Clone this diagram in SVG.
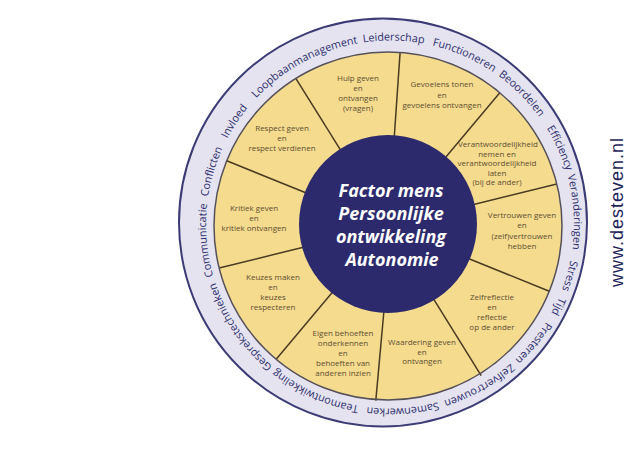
<svg xmlns="http://www.w3.org/2000/svg" xmlns:xlink="http://www.w3.org/1999/xlink" width="640" height="449" viewBox="0 0 640 449">
<style>
.ring{font-family:"Open Sans","Liberation Sans",sans-serif;font-size:10.8px;fill:#2e2e6e;text-anchor:middle}
.seg{font-family:"Open Sans","Liberation Sans",sans-serif;font-size:8px;fill:#5f4e30;text-anchor:middle}
.core{font-family:"Open Sans","Liberation Sans",sans-serif;font-size:18px;font-weight:bold;font-style:italic;fill:#ffffff;text-anchor:middle}
.div{stroke:#4a3a22;stroke-width:1.5}
</style>
<defs>
<path id="tp" d="M574,224.5 A184,184 0 1 1 206,224.5 A184,184 0 1 1 574,224.5 A184,184 0 1 1 206,224.5 A184,184 0 1 1 574,224.5"/>
</defs>
<rect width="640" height="449" fill="#ffffff"/>
<g id="outer-ring">
<circle cx="383" cy="222.5" r="204" fill="#e4e3ef" stroke="#3b3b75" stroke-width="2"/>
</g>
<g id="yellow-disc">
<circle cx="388" cy="226" r="174" fill="#f4db8e"/>
</g>
<g id="connectors">
<line class="div" x1="462.2" y1="256" x2="549.3" y2="291.2"/>
<line class="div" x1="430.4" y1="293.8" x2="481.2" y2="375.6"/>
<line class="div" x1="384.4" y1="305.8" x2="375.8" y2="400.6"/>
<line class="div" x1="336.6" y1="287.3" x2="276.2" y2="359.3"/>
<line class="div" x1="310.4" y1="245.4" x2="219.2" y2="268.1"/>
<line class="div" x1="313.8" y1="196" x2="226.7" y2="160.8"/>
<line class="div" x1="345.6" y1="158.2" x2="295.8" y2="78.4"/>
<line class="div" x1="393.6" y1="146.2" x2="400.1" y2="52.4"/>
<line class="div" x1="439.4" y1="164.7" x2="499.8" y2="92.7"/>
<line class="div" x1="465.6" y1="206.6" x2="556.8" y2="183.9"/>
</g>
<g id="yellow-border">
<circle cx="388" cy="226" r="174" fill="none" stroke="#55505a" stroke-width="1.5"/>
</g>
<g id="center">
<circle cx="388" cy="224" r="89" fill="#2c2a6c"/>
<text class="core" x="391" y="197">Factor mens</text>
<text class="core" x="391" y="220">Persoonlijke</text>
<text class="core" x="391" y="243">ontwikkeling</text>
<text class="core" x="392" y="266">Autonomie</text>
</g>
<g id="seg-hulp"><text class="seg"><tspan x="358" y="81">Hulp geven</tspan><tspan x="358" y="91">en</tspan><tspan x="358" y="101">ontvangen</tspan><tspan x="358" y="111">(vragen)</tspan></text></g>
<g id="seg-gevoelens"><text class="seg"><tspan x="442" y="87">Gevoelens tonen</tspan><tspan x="442" y="97.5">en</tspan><tspan x="442" y="108">gevoelens ontvangen</tspan></text></g>
<g id="seg-verantwoordelijkheid"><text class="seg"><tspan x="498" y="147">Verantwoordelijkheid</tspan><tspan x="497" y="156.5">nemen en</tspan><tspan x="497" y="166">verantwoordelijkheid</tspan><tspan x="497" y="175.5">laten</tspan><tspan x="497" y="185">(bij de ander)</tspan></text></g>
<g id="seg-vertrouwen"><text class="seg"><tspan x="522" y="218">Vertrouwen geven</tspan><tspan x="522" y="228">en</tspan><tspan x="522" y="238.5">(zelf)vertrouwen</tspan><tspan x="522" y="248.5">hebben</tspan></text></g>
<g id="seg-zelfreflectie"><text class="seg"><tspan x="492" y="300">Zelfreflectie</tspan><tspan x="492" y="310">en</tspan><tspan x="492" y="320">reflectie</tspan><tspan x="492" y="330">op de ander</tspan></text></g>
<g id="seg-waardering"><text class="seg"><tspan x="422" y="345">Waardering geven</tspan><tspan x="422" y="354.5">en</tspan><tspan x="422" y="364">ontvangen</tspan></text></g>
<g id="seg-eigen"><text class="seg"><tspan x="343" y="335.5">Eigen behoeften</tspan><tspan x="343" y="345.5">onderkennen</tspan><tspan x="343" y="355.5">en</tspan><tspan x="343" y="365.5">behoeften van</tspan><tspan x="343" y="375.5">anderen inzien</tspan></text></g>
<g id="seg-keuzes"><text class="seg"><tspan x="273" y="279.5">Keuzes maken</tspan><tspan x="273" y="289.5">en</tspan><tspan x="273" y="299.5">keuzes</tspan><tspan x="273" y="309.5">respecteren</tspan></text></g>
<g id="seg-kritiek"><text class="seg"><tspan x="254" y="211">Kritiek geven</tspan><tspan x="254" y="221">en</tspan><tspan x="254" y="231">kritiek ontvangen</tspan></text></g>
<g id="seg-respect"><text class="seg"><tspan x="282" y="131">Respect geven</tspan><tspan x="282" y="141">en</tspan><tspan x="282" y="151">respect verdienen</tspan></text></g>
<g id="ring-labels">
<text class="ring"><textPath xlink:href="#tp" href="#tp" startOffset="51.4">Stress</textPath></text>
<text class="ring"><textPath xlink:href="#tp" href="#tp" startOffset="83.5">Tijd</textPath></text>
<text class="ring"><textPath xlink:href="#tp" href="#tp" startOffset="126.9">Presteren</textPath></text>
<text class="ring"><textPath xlink:href="#tp" href="#tp" startOffset="195.9">Zelfvertrouwen</textPath></text>
<text class="ring"><textPath xlink:href="#tp" href="#tp" startOffset="276.2">Samenwerken</textPath></text>
<text class="ring"><textPath xlink:href="#tp" href="#tp" startOffset="366.1">Teamontwikkeling</textPath></text>
<text class="ring"><textPath xlink:href="#tp" href="#tp" startOffset="467.6">Gesprekstechnieken</textPath></text>
<text class="ring"><textPath xlink:href="#tp" href="#tp" startOffset="562">Communicatie</textPath></text>
<text class="ring"><textPath xlink:href="#tp" href="#tp" startOffset="631">Conflicten</textPath></text>
<text class="ring"><textPath xlink:href="#tp" href="#tp" startOffset="685.6">Invloed</textPath></text>
<text class="ring"><textPath xlink:href="#tp" href="#tp" startOffset="775.6">Loopbaanmanagement</textPath></text>
<text class="ring"><textPath xlink:href="#tp" href="#tp" startOffset="870.3">Leiderschap</textPath></text>
<text class="ring"><textPath xlink:href="#tp" href="#tp" startOffset="942.9">Functioneren</textPath></text>
<text class="ring"><textPath xlink:href="#tp" href="#tp" startOffset="1011.6">Beoordelen</textPath></text>
<text class="ring"><textPath xlink:href="#tp" href="#tp" startOffset="1077.7">Efficiency</textPath></text>
<text class="ring"><textPath xlink:href="#tp" href="#tp" startOffset="1143.3">Veranderingen</textPath></text>
</g>
<g id="watermark">
<text transform="translate(623,212) rotate(-90)" x="0" y="0" font-family="Liberation Sans, Arial, sans-serif" font-size="18" letter-spacing="1" fill="#1e1e5a" text-anchor="middle">www.desteven.nl</text>
</g>
</svg>
